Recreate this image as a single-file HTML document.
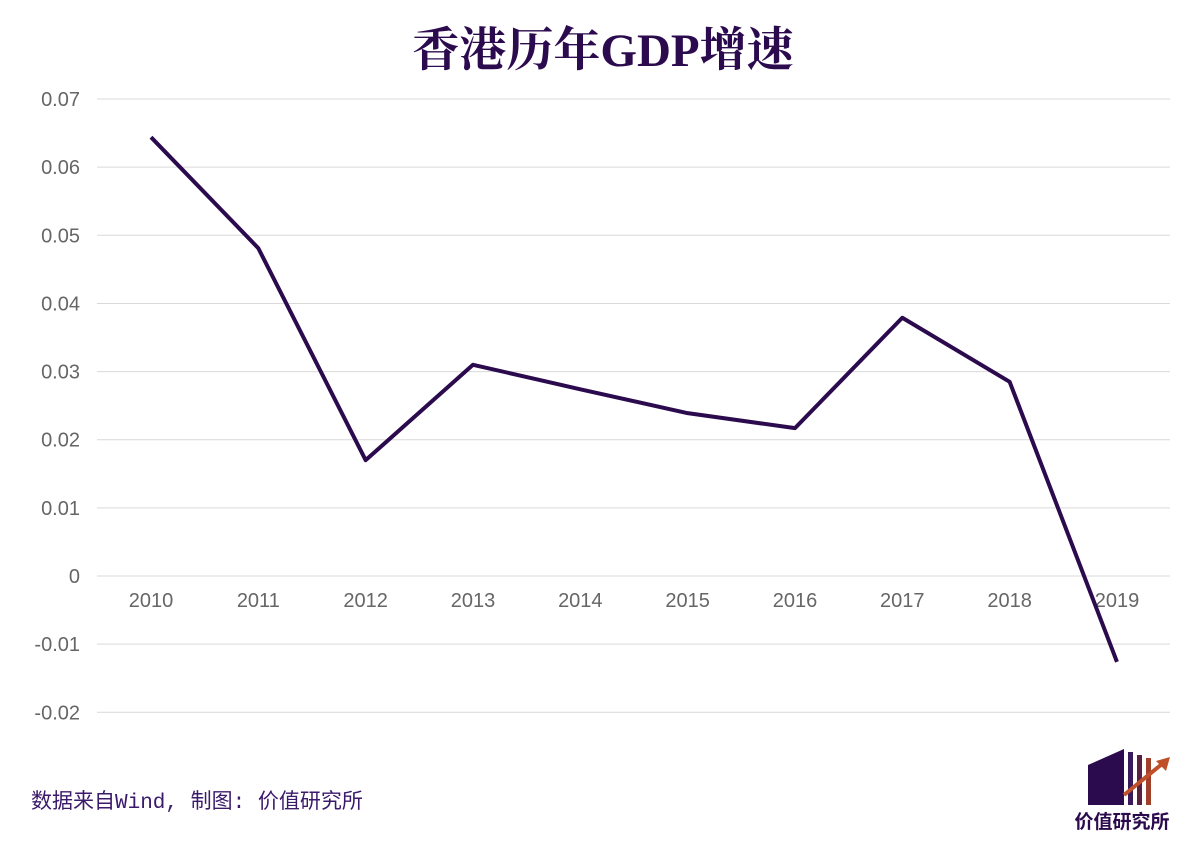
<!DOCTYPE html>
<html><head><meta charset="utf-8"><style>
body{margin:0;background:#fff;width:1203px;height:857px;overflow:hidden;font-family:"Liberation Sans","Noto Sans CJK SC",sans-serif}
</style></head><body>
<svg width="1203" height="857" id="chart">
<text x="603" y="66" text-anchor="middle" font-size="47" font-weight="bold" fill="#2b0a4d" font-family="'Liberation Serif','Noto Serif CJK SC',serif">香港历年GDP增速</text>
<g id="grid"></g><g id="yt"></g><g id="xt"></g>
<path id="line" fill="none" stroke="#2b0a4d" stroke-width="4" stroke-linejoin="round"/>
<text x="31" y="808" font-size="21" fill="#3b1a6b" font-family="'Liberation Mono','Noto Sans CJK SC',monospace">数据来自Wind, 制图: 价值研究所</text>
<g>
<polygon points="1088,765 1124,749 1124,805 1088,805" fill="#2b0a4d"/>
<rect x="1128" y="752" width="5" height="53" fill="#3b1a5b"/>
<rect x="1137" y="755" width="5" height="50" fill="#5a2040"/>
<rect x="1146" y="758" width="5" height="47" fill="#a0402a"/>
<line x1="1124" y1="795" x2="1162" y2="764" stroke="#c0502a" stroke-width="4"/>
<polygon points="1170,757 1156,761 1166,771" fill="#c0502a"/>
<text x="1122" y="828" text-anchor="middle" font-size="19" font-weight="bold" fill="#2b0a4d">价值研究所</text>
</g>
</svg>
<script>
const years=["2010","2011","2012","2013","2014","2015","2016","2017","2018","2019"];
const growth=[0.0644,0.0481,0.0170,0.0310,0.0274,0.0239,0.0217,0.0379,0.0285,-0.0126];
const yTicks=[0.07,0.06,0.05,0.04,0.03,0.02,0.01,0,-0.01,-0.02];
const yLabels=["0.07","0.06","0.05","0.04","0.03","0.02","0.01","0","-0.01","-0.02"];
const ns="http://www.w3.org/2000/svg";
const y=v=>576-v*6814;
const x=i=>151+i*107.33;
const g=document.getElementById('grid'),yt=document.getElementById('yt'),xt=document.getElementById('xt');
yTicks.forEach((t,i)=>{
 const l=document.createElementNS(ns,'line');
 l.setAttribute('x1',97);l.setAttribute('x2',1170);l.setAttribute('y1',y(t));l.setAttribute('y2',y(t));
 l.setAttribute('stroke','#d9d9d9');l.setAttribute('stroke-width','1');
 
 
 g.appendChild(l);
 const tx=document.createElementNS(ns,'text');
 tx.setAttribute('x',80);tx.setAttribute('y',y(t)+7);tx.setAttribute('text-anchor','end');
 tx.setAttribute('font-size','20');tx.setAttribute('fill','#666');tx.textContent=yLabels[i];
 
 
 yt.appendChild(tx);
});
years.forEach((yr,i)=>{
 const tx=document.createElementNS(ns,'text');
 tx.setAttribute('x',x(i));tx.setAttribute('y',607);tx.setAttribute('text-anchor','middle');
 tx.setAttribute('font-size','20');tx.setAttribute('fill','#666');tx.textContent=yr;
 
 
 xt.appendChild(tx);
});
document.getElementById('line').setAttribute('d',growth.map((v,i)=>(i?'L':'M')+x(i)+','+y(v)).join(''));
</script>
</body></html>
